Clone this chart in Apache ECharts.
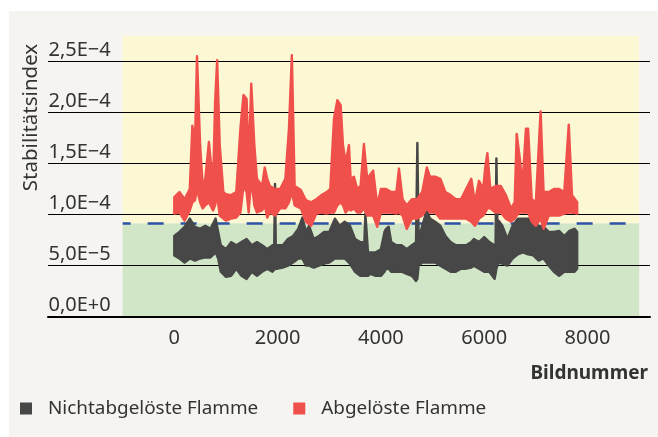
<!DOCTYPE html>
<html>
<head>
<meta charset="utf-8">
<script src="https://cdn.jsdelivr.net/npm/echarts@6/dist/echarts.min.js"></script>
<style>
html,body{margin:0;padding:0;background:#ffffff;}
#bg{position:absolute;left:9px;top:11px;width:649px;height:426px;background:#f5f4f0;}
#chart{position:absolute;left:0;top:0;width:658px;height:437px;}
</style>
</head>
<body>
<div id="bg"></div>
<div id="chart"></div>
<script>
// ---- data (values in units of 1e-5) ----
const redFrames = [0,100,200,300,350,400,440,500,550,600,670,750,790,830,880,950,1000,1100,1200,1280,1340,1400,1440,1490,1550,1600,1700,1750,1800,
  1850,1950,2050,2150,2220,2276,2330,2450,2550,2650,2750,2850,2950,3020,3092,3157,3221,3266,3317,3382,3414,3478,3542,3607,3671,3735,
  3850,3930,4000,4100,4200,4300,4350,4420,4500,4600,4700,4800,4890,4950,5050,5150,5250,5350,5450,5550,5650,5750,
  5820,5900,5980,6020,6062,6120,6220,6320,6420,6520,6590,6629,6690,6740,6808,6850,6920,7000,7092,7150,7250,7350,7450,7550,7637,7700,7800];
const redHigh = [11.7,12.2,11.5,12.5,18.7,16.8,25.5,16.8,12.8,13.5,17.1,12.8,21.0,25.1,16.8,12.2,12.0,11.9,12.2,18.4,21.7,21.3,15.1,22.8,16.8,13.5,12.8,14.6,13.5,
  12.8,12.5,12.5,13.5,18.4,25.6,12.8,12.4,11.4,11.2,11.5,11.9,12.2,12.5,19.4,21.2,20.7,16.8,15.1,16.8,13.5,13.7,12.5,12.8,16.9,13.5,
  14.3,10.9,12.5,12.5,12.2,12.2,14.5,11.5,10.9,11.5,11.5,12.2,14.6,13.7,13.7,13.5,12.2,11.9,11.5,11.5,12.5,13.5,
  11.2,13.3,12.5,14.6,16.0,12.5,12.8,12.8,11.9,10.6,11.2,17.9,15.5,12.8,18.4,18.4,11.5,11.2,20.1,12.2,12.2,12.5,12.5,12.2,18.8,11.9,11.2];
const redLow = [10.1,10.2,9.4,10.4,11.2,11.4,12.5,11.2,10.6,10.9,11.2,10.4,10.9,11.9,9.9,9.6,9.4,9.6,9.7,10.2,12.8,12.2,10.2,13.5,10.9,10.2,10.4,10.9,9.7,
  10.2,9.9,10.6,10.6,11.2,12.2,10.9,10.6,9.3,8.9,10.1,10.2,10.1,10.2,10.2,10.9,11.2,10.9,10.2,10.6,10.4,10.6,10.2,10.2,10.6,9.9,
  9.9,8.8,10.2,10.2,10.2,10.1,10.2,9.9,8.6,9.6,9.6,9.9,10.6,10.2,10.2,9.6,9.6,9.6,9.6,9.6,9.6,9.3,
  8.9,9.6,9.9,10.2,10.6,10.6,10.2,10.2,9.6,9.3,9.6,9.9,10.2,10.2,10.2,10.2,9.3,8.9,9.6,8.6,9.9,9.9,9.9,10.1,10.2,10.2,10.1];

const blackFrames = [0,100,200,300,400,500,600,700,800,850,900,1000,1100,1200,1300,1400,1500,1600,1700,1800,
  1900,1935,1950,1965,2000,2100,2200,2300,2400,2480,2550,2610,2700,2800,2900,3000,3110,3200,3300,3400,3500,3600,3680,3700,3750,
  3800,3900,4000,4070,4100,4150,4200,4300,4400,4500,4600,4680,4706,4730,4800,4890,4950,5050,5150,5250,5350,5450,5550,5650,5750,
  5800,5900,6000,6100,6200,6220,6236,6255,6280,6350,6450,6550,6650,6750,6850,6950,7050,7150,7250,7350,7450,7550,7650,7750,7800];
const blackHigh = [7.9,8.3,8.8,9.6,8.8,8.6,8.9,8.6,9.6,8.3,7.0,6.6,7.3,7.0,7.3,7.6,7.0,7.3,7.0,6.6,
  7.0,7.0,13.0,7.0,7.0,7.0,7.6,7.9,8.6,9.7,8.3,8.9,7.6,7.9,8.3,8.3,9.6,8.9,9.3,8.9,7.6,7.3,7.3,10.1,6.3,
  6.3,6.3,6.6,8.3,8.6,8.8,7.3,7.0,7.0,6.6,7.0,7.3,17.0,7.6,8.9,10.4,9.6,9.3,8.9,7.9,7.3,7.0,7.0,7.0,7.3,
  7.6,7.3,7.8,7.3,7.0,7.0,15.5,9.4,9.4,8.9,7.6,8.9,9.6,9.6,9.6,9.3,8.9,8.8,8.3,8.3,8.4,7.9,8.4,8.6,8.3];
const blackLow = [6.0,5.7,5.3,5.7,5.5,5.7,5.8,5.8,6.3,5.7,4.4,3.9,4.0,4.7,4.0,3.7,4.4,4.0,4.4,4.7,
  4.4,4.6,4.7,4.7,4.7,4.8,5.0,5.3,5.7,5.7,5.0,5.0,4.8,5.0,5.2,5.3,5.7,5.7,5.7,5.2,4.4,4.0,4.0,4.0,4.0,
  4.2,4.0,4.0,4.4,4.7,4.7,4.4,4.4,4.4,4.2,4.0,3.5,3.7,5.0,5.3,5.3,5.3,5.3,5.0,4.7,4.4,4.4,4.7,4.7,4.8,
  5.0,4.7,4.4,4.4,3.7,4.2,4.7,5.0,5.3,5.2,5.0,5.7,6.1,6.3,6.1,6.0,5.5,5.7,5.0,4.4,4.0,4.4,4.4,4.4,4.7];

const threshold = 9.15e-5;
const zoneStart = -1000, zoneEnd = 9000;
const yTickValues = [0, 5e-5, 1e-4, 1.5e-4, 2e-4, 2.5e-4];
const yTickLabels = ['0,0E+0', '5,0E\u22125', '1,0E\u22124', '1,5E\u22124', '2,0E\u22124', '2,5E\u22124'];
const xTickValues = [0, 2000, 4000, 6000, 8000];
const xTickLabels = ['0', '2000', '4000', '6000', '8000'];
const seriesNames = ['Nichtabgelöste Flamme', 'Abgelöste Flamme'];

const FONT = '"Noto Sans", "Open Sans", sans-serif';
const TXT = '#333333';
const BLACK = '#474747';
const RED = '#f0504b';

function bandData(frames, hi, lo) {
  return frames.map((f, i) => [f, hi[i] * 1e-5, lo[i] * 1e-5]);
}
function bandRenderer(color) {
  return function (params, api) {
    if (params.dataIndexInside !== 0) return null;
    const n = params.dataInsideLength;
    const pts = [];
    for (let i = 0; i < n; i++) pts.push(api.coord([api.value(0, i), api.value(1, i)]));
    for (let i = n - 1; i >= 0; i--) pts.push(api.coord([api.value(0, i), api.value(2, i)]));
    return {
      type: 'polygon',
      shape: { points: pts },
      style: { fill: color, stroke: color, lineWidth: 2.4, lineJoin: 'round' }
    };
  };
}
function nearestLabel(values, labels, v) {
  let best = 0;
  for (let i = 0; i < values.length; i++) {
    if (Math.abs(values[i] - v) < Math.abs(values[best] - v)) best = i;
  }
  return labels[best];
}

const chart = echarts.init(document.getElementById('chart'), null, { renderer: 'canvas' });
chart.setOption({
  animation: false,
  color: [BLACK, RED],
  textStyle: { fontFamily: FONT },
  grid: { left: 48, right: 8, top: 35.76, bottom: 120.3 },
  xAxis: {
    type: 'value', min: -2445, max: 9210, z: 1.5,
    axisLine: { show: true, lineStyle: { color: '#000', width: 2 } },
    axisTick: { show: false, customValues: xTickValues },
    splitLine: { show: false },
    axisLabel: {
      customValues: xTickValues, color: TXT, fontSize: 20, fontFamily: FONT, margin: 12,
      formatter: function (v) { return nearestLabel(xTickValues, xTickLabels, v); }
    }
  },
  yAxis: {
    type: 'value', min: 0, max: 2.75e-4, z: 1.5,
    axisLine: { show: false },
    axisTick: { show: false, customValues: yTickValues },
    splitLine: { show: true, lineStyle: { color: '#000', width: 1 } },
    axisLabel: {
      customValues: yTickValues,
      inside: true, margin: 62.7, align: 'right', verticalAlign: 'bottom',
      color: TXT, fontSize: 20, fontFamily: FONT, padding: [0, 0, 1, 0],
      formatter: function (v) { return nearestLabel(yTickValues, yTickLabels, v); }
    }
  },
  legend: {
    data: seriesNames, left: 20, top: 399, padding: 0, icon: 'rect', itemWidth: 12, itemHeight: 12, itemGap: 35,
    textStyle: { color: TXT, fontSize: 18.9, fontFamily: FONT, padding: [0, 0, 0, 11] }
  },
  graphic: [
    { type: 'text', x: 31, y: 117.5, rotation: Math.PI / 2, silent: true,
      style: { text: 'Stabilitätsindex', fill: TXT, font: '20.5px ' + FONT, align: 'center', verticalAlign: 'middle', textAlign: 'center', textVerticalAlign: 'middle' } },
    { type: 'text', x: 648, y: 374, silent: true,
      style: { text: 'Bildnummer', fill: TXT, font: 'bold 19px ' + FONT, align: 'right', verticalAlign: 'middle', textAlign: 'right', textVerticalAlign: 'middle' } }
  ],
  series: [
    {
      type: 'line', name: 'zones', z: 0, silent: true, symbol: 'none',
      data: [[zoneStart, 0], [zoneEnd, 0]], lineStyle: { opacity: 0 },
      markArea: {
        silent: true, z: 1,
        data: [
          [{ xAxis: zoneStart, yAxis: 0, itemStyle: { color: '#d0e6c6' } }, { xAxis: zoneEnd, yAxis: threshold }],
          [{ xAxis: zoneStart, yAxis: threshold, itemStyle: { color: '#fcf8d4' } }, { xAxis: zoneEnd, yAxis: 2.75e-4 }]
        ]
      },
      markLine: {
        silent: true, z: 1.8, symbol: ['none', 'none'], label: { show: false },
        lineStyle: { color: '#2c52a6', width: 2.5, type: [16, 17], dashOffset: 8 },
        data: [[{ coord: [zoneStart, threshold] }, { coord: [zoneEnd, threshold] }]]
      }
    },
    {
      type: 'custom', name: seriesNames[0], z: 2, silent: true,
      itemStyle: { color: BLACK },
      encode: { x: 0, y: [1, 2] },
      data: bandData(blackFrames, blackHigh, blackLow),
      renderItem: bandRenderer(BLACK)
    },
    {
      type: 'custom', name: seriesNames[1], z: 3, silent: true,
      itemStyle: { color: RED },
      encode: { x: 0, y: [1, 2] },
      data: bandData(redFrames, redHigh, redLow),
      renderItem: bandRenderer(RED)
    }
  ]
});
</script>
</body>
</html>
